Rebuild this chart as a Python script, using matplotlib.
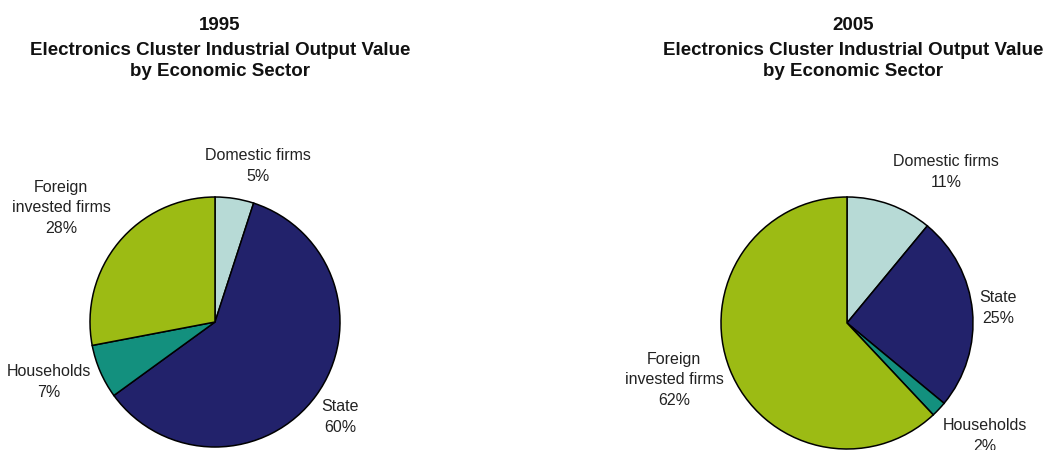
import matplotlib
matplotlib.use("Agg")
import matplotlib.pyplot as plt

plt.rcParams['font.family'] = ['Liberation Sans', 'DejaVu Sans']

# Sector shares of electronics cluster industrial output value (%)
sectors = ["Domestic firms", "State", "Households", "Foreign\ninvested firms"]
shares_1995 = [5, 60, 7, 28]
shares_2005 = [11, 25, 2, 62]
years = ["1995", "2005"]
title_text = "Electronics Cluster Industrial Output Value\nby Economic Sector"

colors = ["#B7DAD6", "#22226B", "#13907E", "#9CBB14"]

W, H = 1050, 450
fig = plt.figure(figsize=(W / 100, H / 100), dpi=100)
fig.patch.set_facecolor("white")


def px_axes(cx, cy, r):
    """Square axes of radius r (pixels) centred at (cx, cy) measured from the top-left."""
    return fig.add_axes([(cx - r) / W, (H - cy - r) / H, 2 * r / W, 2 * r / H])


def px_text(x, y, s, **kw):
    fig.text(x / W, 1 - y / H, s, ha="center", va="center", fontsize=11.5,
             color="#222222", linespacing=1.45, **kw)


panels = [
    # pie centre, radius, title centre x, label positions per sector
    dict(values=shares_1995, year=years[0], cx=215, cy=322, r=125, tx=220,
         labels=[(258, 166), (340, 417), (49, 382), (61, 208)]),
    dict(values=shares_2005, year=years[1], cx=847, cy=323, r=126, tx=853,
         labels=[(946, 172), (998, 308), (985, 436), (674, 380)]),
]

for p in panels:
    ax = px_axes(p["cx"], p["cy"], p["r"])
    ax.pie(p["values"], colors=colors, startangle=90, counterclock=False,
           radius=1.0, wedgeprops=dict(edgecolor="black", linewidth=1.1))
    ax.set_xlim(-1.0, 1.0)
    ax.set_ylim(-1.0, 1.0)
    ax.set_aspect("equal")
    ax.axis("off")
    for name, val, (lx, ly) in zip(sectors, p["values"], p["labels"]):
        px_text(lx, ly, f"{name}\n{val}%")
    fig.text(p["tx"] / W, 1 - 25 / H, p["year"], ha="center", va="center",
             fontsize=13.5, fontweight="bold", color="#111111")
    fig.text(p["tx"] / W, 1 - 61 / H, title_text, ha="center", va="center",
             fontsize=13.5, fontweight="bold", color="#111111", linespacing=1.25)

fig.savefig("out.png", dpi=100, facecolor="white")
